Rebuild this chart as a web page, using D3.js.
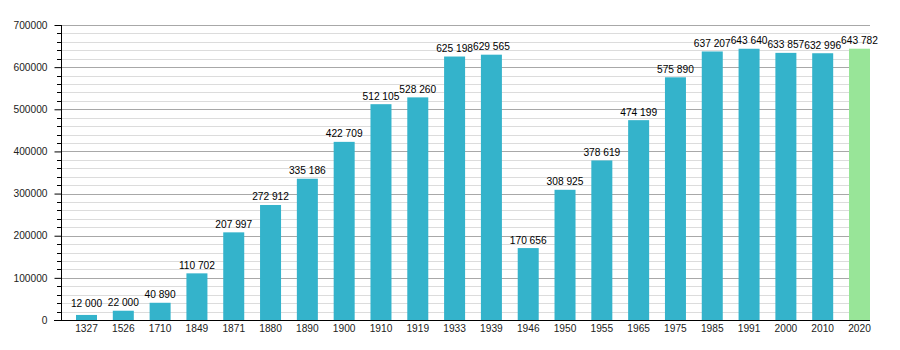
<!DOCTYPE html>
<html><head><meta charset="utf-8">
<script src="https://cdn.jsdelivr.net/npm/d3@7"></script>
<style>body{margin:0;background:#fff}svg{display:block}text{font-family:"Liberation Sans",Arial,sans-serif}</style>
</head><body><svg id="c" width="900" height="350"></svg>
<script>
const years = ["1327","1526","1710","1849","1871","1880","1890","1900","1910","1919","1933","1939","1946","1950","1955","1965","1975","1985","1991","2000","2010","2020"];
const population = [12000,22000,40890,110702,207997,272912,335186,422709,512105,528260,625198,629565,170656,308925,378619,474199,575890,637207,643640,633857,632996,643782];
const yTicks = [0,100000,200000,300000,400000,500000,600000,700000];

const svg = d3.select("#c");
const x0 = 61, x1 = 870, yTop = 25, yBot = 320;
const y = d3.scaleLinear().domain([0,700000]).range([yBot,yTop]);
const x = d3.scaleBand().domain(years).range([76, x1]).paddingInner(0.4295).paddingOuter(0);

// minor grid
const minor = d3.range(0,700001,20000).filter(v => v % 100000 !== 0);
svg.append("g").selectAll("line").data(minor).join("line")
  .attr("x1", x0).attr("x2", x1).attr("y1", d=>Math.round(y(d))+0.5).attr("y2", d=>Math.round(y(d))+0.5)
  .attr("stroke","#dcdcdc").attr("stroke-width",1);
svg.append("g").selectAll("line").data(yTicks.filter(d=>d>0)).join("line")
  .attr("x1", x0).attr("x2", x1).attr("y1", d=>Math.round(y(d))+0.5).attr("y2", d=>Math.round(y(d))+0.5)
  .attr("stroke","#a8a8a8").attr("stroke-width",1);

// bars
svg.append("g").selectAll("rect").data(population).join("rect")
  .attr("x", (d,i)=>x(years[i])).attr("width", x.bandwidth())
  .attr("y", d=>y(d)).attr("height", d=>yBot - y(d))
  .attr("fill", (d,i)=> i === years.length-1 ? "#98e598" : "#34b3cb");

// bar labels
const fmt = v => d3.format(",")(v).replace(/,/g," ");
svg.append("g").selectAll("text").data(population).join("text")
  .attr("x", (d,i)=>x(years[i]) + x.bandwidth()/2)
  .attr("y", d=>Math.min(y(d),311) - 4.5)
  .attr("text-anchor","middle").attr("font-size",10.2).attr("fill","#000")
  .text(d=>fmt(d));

// y axis
const yAxis = d3.axisLeft(y).tickValues(yTicks).tickSize(7).tickPadding(7).tickFormat(d3.format("d"));
const gy = svg.append("g").attr("transform",`translate(${x0+0.5},0)`).call(yAxis);
gy.select(".domain").remove();
gy.selectAll(".tick line").attr("stroke","#000");
gy.selectAll("text").attr("font-size",10.2).attr("fill","#222").style("font-family",'"Liberation Sans",Arial,sans-serif');
// minor ticks
svg.append("g").selectAll("line").data(minor).join("line")
  .attr("x1", x0-4).attr("x2", x0).attr("y1", d=>Math.round(y(d))+0.5).attr("y2", d=>Math.round(y(d))+0.5)
  .attr("stroke","#000");
svg.append("line").attr("x1",x0+0.5).attr("x2",x0+0.5).attr("y1",yTop).attr("y2",yBot).attr("stroke","#000");

// x axis
const xAxis = d3.axisBottom(x).tickSize(0).tickPadding(5);
const gx = svg.append("g").attr("transform",`translate(0,${yBot})`).call(xAxis);
gx.select(".domain").remove();
gx.selectAll("text").attr("font-size",10.2).attr("fill","#222").style("font-family",'"Liberation Sans",Arial,sans-serif');
svg.append("line").attr("x1",54).attr("x2",x1).attr("y1",yBot+0.5).attr("y2",yBot+0.5).attr("stroke","#000");
</script></body></html>
